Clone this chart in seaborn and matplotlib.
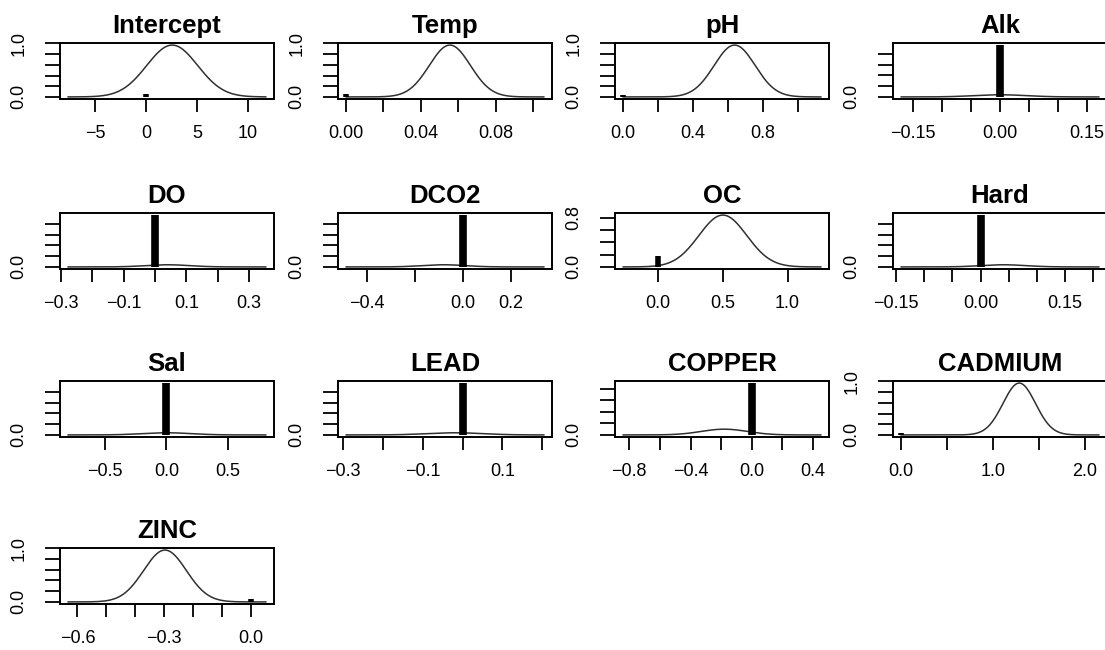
import numpy as np
import pandas as pd
import matplotlib
matplotlib.use("Agg")
import matplotlib.pyplot as plt
import seaborn as sns

# ---------------- data ----------------
variables = ["Intercept", "Temp", "pH", "Alk", "DO", "DCO2", "OC", "Hard",
             "Sal", "LEAD", "COPPER", "CADMIUM", "ZINC"]
post_mean = [2.55, 0.0555, 0.637, 0.0, 0.04, -0.08, 0.50, 0.04,
             0.0, -0.02, -0.18, 1.285, -0.297]
post_sd = [2.5, 0.011, 0.117, 0.045, 0.07, 0.09, 0.185, 0.04,
           0.20, 0.07, 0.15, 0.177, 0.074]
prob_nonzero = [0.97, 0.97, 0.97, 0.04, 0.04, 0.04, 0.84, 0.04,
                0.04, 0.04, 0.10, 0.97, 0.965]
prob_zero = [0.05, 0.05, 0.045, 0.96, 0.96, 0.96, 0.18, 0.96,
             0.96, 0.96, 0.90, 0.045, 0.06]
x_low = [-7.69, 0.0, 0.0, -0.171, -0.278, -0.486, -0.272, -0.141,
         -0.804, -0.293, -0.841, 0.0, -0.633]
x_high = [11.77, 0.1058, 1.13, 0.171, 0.354, 0.338, 1.259, 0.210,
          0.815, 0.205, 0.452, 2.152, 0.053]
x_ticks = [
    [-5, 0, 5, 10],
    [0.0, 0.02, 0.04, 0.06, 0.08, 0.10],
    [0.0, 0.2, 0.4, 0.6, 0.8, 1.0],
    [-0.15, -0.10, -0.05, 0.0, 0.05, 0.10, 0.15],
    [-0.3, -0.2, -0.1, 0.0, 0.1, 0.2, 0.3],
    [-0.4, -0.2, 0.0, 0.2],
    [0.0, 0.5, 1.0],
    [-0.15, -0.10, -0.05, 0.0, 0.05, 0.10, 0.15, 0.20],
    [-0.5, 0.0, 0.5],
    [-0.3, -0.2, -0.1, 0.0, 0.1, 0.2],
    [-0.8, -0.6, -0.4, -0.2, 0.0, 0.2, 0.4],
    [0.0, 0.5, 1.0, 1.5, 2.0],
    [-0.6, -0.5, -0.4, -0.3, -0.2, -0.1, 0.0],
]
x_tick_labels = [
    ["\u22125", "0", "5", "10"],
    ["0.00", "", "0.04", "", "0.08", ""],
    ["0.0", "", "0.4", "", "0.8", ""],
    ["\u22120.15", "", "", "0.00", "", "", "0.15"],
    ["\u22120.3", "", "\u22120.1", "", "0.1", "", "0.3"],
    ["\u22120.4", "", "0.0", "0.2"],
    ["0.0", "0.5", "1.0"],
    ["\u22120.15", "", "", "0.00", "", "", "0.15", ""],
    ["\u22120.5", "0.0", "0.5"],
    ["\u22120.3", "", "\u22120.1", "", "0.1", ""],
    ["\u22120.8", "", "\u22120.4", "", "0.0", "", "0.4"],
    ["0.0", "", "1.0", "", "2.0"],
    ["\u22120.6", "", "", "\u22120.3", "", "", "0.0"],
]
y_labelled = [[0.0, 1.0], [0.0, 1.0], [0.0, 1.0], [0.0], [0.0], [0.0],
              [0.0, 0.8], [0.0], [0.0], [0.0], [0.0], [0.0, 1.0], [0.0, 1.0]]

# ---------------- style ----------------
sns.set_theme(style="white")
plt.rcParams["font.family"] = ["Liberation Sans", "DejaVu Sans"]
for key in ["text.color", "axes.labelcolor", "xtick.color", "ytick.color",
            "axes.edgecolor"]:
    plt.rcParams[key] = "black"
plt.rcParams["axes.linewidth"] = 1.4

W, H = 1105, 650
fig = plt.figure(figsize=(W / 100, H / 100), dpi=100)
fig.patch.set_facecolor("white")

col_left = [60, 338, 615, 893]
row_top = [43, 213, 381, 548]
box_w, box_h = 214, 56

for i, name in enumerate(variables):
    r, c = divmod(i, 4)
    ax = fig.add_axes([col_left[c] / W, 1 - (row_top[r] + box_h) / H,
                       box_w / W, box_h / H])
    xs = np.linspace(x_low[i], x_high[i], 400)
    dens = np.exp(-0.5 * ((xs - post_mean[i]) / post_sd[i]) ** 2)
    dens = dens / dens.max() * prob_nonzero[i]
    df = pd.DataFrame({"x": xs, "y": dens})
    sns.lineplot(data=df, x="x", y="y", ax=ax, color="#303030",
                 linewidth=1.1, sort=False)
    bar_w = 5.5 if prob_zero[i] > 0.5 else 4.0
    ax.plot([0, 0], [0, prob_zero[i]], color="black", linewidth=bar_w,
            solid_capstyle="butt")
    ymax = max(prob_nonzero[i], prob_zero[i])
    ax.set_ylim(-0.04 * ymax, 1.04 * ymax)
    span = x_high[i] - x_low[i]
    ax.set_xlim(x_low[i] - 0.04 * span, x_high[i] + 0.04 * span)

    ax.set_xticks(x_ticks[i])
    ax.set_xticklabels(x_tick_labels[i], fontsize=13, color="black")
    yt = [v for v in np.arange(0, 1.01, 0.2) if v <= 1.04 * ymax + 1e-9]
    ax.set_yticks(yt)
    ylabs = []
    for v in yt:
        ylabs.append(f"{v:.1f}" if any(abs(v - w) < 1e-6 for w in y_labelled[i]) else "")
    ax.set_yticklabels(ylabs, rotation=90, va="center", fontsize=13,
                       color="black")
    ax.tick_params(axis="x", length=9.5, width=1.3, pad=9, color="black",
                   bottom=True)
    ax.tick_params(axis="y", length=10.5, width=1.3, pad=13, color="black",
                   left=True)
    ax.set_xlabel("")
    ax.set_ylabel("")
    ax.set_title(name, fontsize=18.5, fontweight="bold", pad=7, color="black")
    for s in ax.spines.values():
        s.set_visible(True)
        s.set_color("black")
        s.set_linewidth(1.4)

fig.savefig("out.png", dpi=100, facecolor="white")
